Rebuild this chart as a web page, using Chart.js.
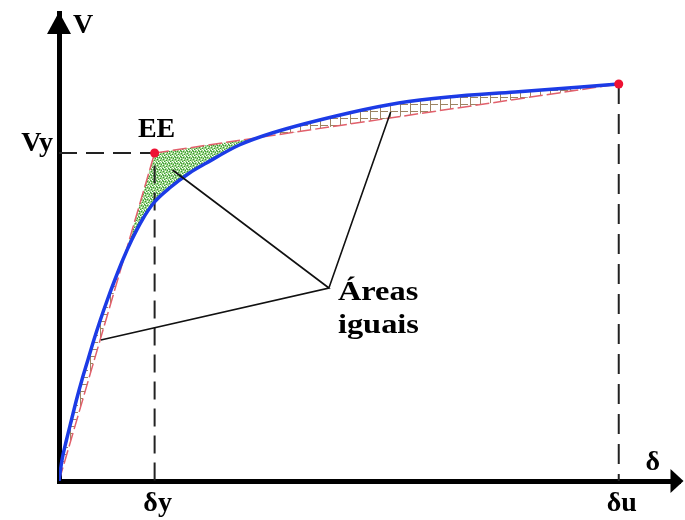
<!DOCTYPE html>
<html>
<head>
<meta charset="utf-8">
<script src="https://cdn.jsdelivr.net/npm/chart.js@4/dist/chart.umd.min.js"></script>
<style>
  body { margin: 0; background: #fff; }
</style>
</head>
<body>
<canvas id="grafico" width="685" height="520"></canvas>
<script>
// capacity curve (delta, V)
const curveDelta = [0, 0.3, 0.75, 1.25, 1.75, 2.3, 2.9, 3.5, 4.15, 4.85, 5.6, 6.4, 7.3, 8.35, 9.5, 11.1, 13.1, 14.8, 18.1, 21.4, 29.1, 34.1, 39.1, 45.8, 52.4, 56.2];
const curveV = [0, 2.1, 4.1, 6.1, 8.1, 10.1, 12.1, 14.1, 16.1, 18.1, 20.1, 22.1, 24.1, 26.1, 27.8, 29.3, 30.8, 31.8, 33.6, 34.8, 36.8, 37.8, 38.4, 38.9, 39.4, 39.7];

// equivalent bilinear: origin -> EE -> ultimate
const bilinDelta = [0, 9.6, 56.2];
const bilinV = [0, 32.8, 39.7];

// tick positions and labels
const deltaY = 9.6, deltaU = 56.2, vY = 32.8;
const xTickValues = [deltaY, deltaU];
const xTickLabels = ['δy', 'δu'];
const yTickValues = [vY];
const yTickLabels = ['Vy'];

// areas between the two curves
const greenDelta = [6.6, 9.6, 20.1, 18.1, 14.8, 13.1, 11.1, 9.5, 8.35, 7.3, 6.6];
const greenV = [22.55, 32.8, 34.35, 33.6, 31.8, 30.8, 29.3, 27.8, 26.1, 24.1, 22.55];
const lowDelta = [0, 6.6, 6.4, 5.6, 4.85, 4.15, 3.5, 2.9, 2.3, 1.75, 1.25, 0.75, 0.3, 0];
const lowV = [0, 22.55, 22.1, 20.1, 18.1, 16.1, 14.1, 12.1, 10.1, 8.1, 6.1, 4.1, 2.1, 0];
const highDelta = [20.1, 21.4, 29.1, 34.1, 39.1, 45.8, 52.4, 56.2, 20.1];
const highV = [34.35, 34.8, 36.8, 37.8, 38.4, 38.9, 39.4, 39.7, 34.35];

// leader lines to "Áreas iguais"
const leaderDelta = [4.2, 27.1, 11.4, 27.1, 33.3];
const leaderV = [14.1, 19.3, 31.1, 19.3, 36.9];

const pts = (xs, ys) => xs.map((v, i) => ({ x: v, y: ys[i] }));

function greenPattern() {
    const c = document.createElement('canvas');
    c.width = 6; c.height = 6;
    const g = c.getContext('2d');
    g.fillStyle = '#9dd58a';
    g.fillRect(0, 0, 6, 6);
    g.fillStyle = '#3a9636';
    [[0, 0], [3, 1], [1, 3], [4, 4], [5, 2], [2, 5], [1, 1]].forEach(p => g.fillRect(p[0], p[1], 1, 1));
    g.fillStyle = '#ffffff';
    [[2, 0], [5, 0], [0, 2], [3, 3], [1, 5], [4, 5]].forEach(p => g.fillRect(p[0], p[1], 1, 1));
    return g.createPattern(c, 'repeat');
}

function hatchPattern() {
    const c = document.createElement('canvas');
    c.width = 10; c.height = 7;
    const g = c.getContext('2d');
    g.fillStyle = '#9c8462';
    g.fillRect(0, 0, 1, 7);
    g.fillRect(0, 6, 8, 1);
    return g.createPattern(c, 'repeat');
}

const font = { family: '"Liberation Serif", "DejaVu Serif", serif', size: 28, weight: 'bold' };

const overlay = {
    id: 'overlay',
    afterDraw(chart) {
        const { ctx, chartArea: a, scales: { x, y } } = chart;
        ctx.save();
        ctx.fillStyle = '#000';
        // arrow heads
        ctx.beginPath();
        ctx.moveTo(a.left, a.top - 1);
        ctx.lineTo(a.left - 12, a.top + 21);
        ctx.lineTo(a.left + 12, a.top + 21);
        ctx.closePath();
        ctx.fill();
        ctx.beginPath();
        ctx.moveTo(a.right + 3, a.bottom);
        ctx.lineTo(a.right - 10, a.bottom - 12);
        ctx.lineTo(a.right - 10, a.bottom + 12);
        ctx.closePath();
        ctx.fill();

        ctx.font = 'bold 28px "Liberation Serif", serif';
        ctx.textBaseline = 'alphabetic';
        ctx.textAlign = 'left';
        ctx.fillText('V', a.left + 14, a.top + 20);
        ctx.fillText('δ', a.right - 35, a.bottom - 11);

        ctx.textAlign = 'center';
        ctx.fillText('EE', x.getPixelForValue(deltaY) + 2, y.getPixelForValue(vY) - 16);

        const hx = x.getPixelForValue(leaderDelta[1]);
        const hy = y.getPixelForValue(leaderV[1]);
        ctx.translate(hx + 9, hy);
        ctx.scale(1.2, 1);
        ctx.font = 'bold 27px "Liberation Serif", serif';
        ctx.textAlign = 'left';
        ctx.fillText('Áreas', 0, 12);
        ctx.fillText('iguais', 0, 45);
        ctx.restore();
    }
};

new Chart(document.getElementById('grafico'), {
    type: 'scatter',
    data: {
        datasets: [
            {   // end points
                data: [{ x: deltaY, y: vY }, { x: deltaU, y: bilinV[2] }],
                pointRadius: 4.5, pointBackgroundColor: '#ee1133', pointBorderWidth: 0,
                showLine: false, order: 0
            },
            {   // leaders
                data: pts(leaderDelta, leaderV),
                showLine: true, borderColor: '#111', borderWidth: 1.6, pointRadius: 0, order: 1
            },
            {   // blue capacity curve
                data: pts(curveDelta, curveV),
                showLine: true, borderColor: '#1c3be6', borderWidth: 3.5, pointRadius: 0,
                cubicInterpolationMode: 'monotone', order: 2
            },
            {   // red bilinear
                data: pts(bilinDelta, bilinV),
                showLine: true, borderColor: '#e2606c', borderWidth: 1.5, borderDash: [14, 4],
                pointRadius: 0, order: 3
            },
            {   // Vy / δy guide
                data: [{ x: 0, y: vY }, { x: deltaY, y: vY }, { x: deltaY, y: 0 }],
                showLine: true, borderColor: '#222', borderWidth: 2, borderDash: [18, 9],
                pointRadius: 0, order: 4
            },
            {   // δu guide
                data: [{ x: deltaU, y: bilinV[2] }, { x: deltaU, y: 0 }],
                showLine: true, borderColor: '#222', borderWidth: 2, borderDash: [20, 10],
                pointRadius: 0, order: 4
            },
            {
                data: pts(greenDelta, greenV),
                showLine: true, borderWidth: 0, pointRadius: 0,
                fill: 'shape', backgroundColor: greenPattern(), order: 5
            },
            {
                data: pts(lowDelta, lowV),
                showLine: true, borderWidth: 0, pointRadius: 0,
                fill: 'shape', backgroundColor: hatchPattern(), order: 5
            },
            {
                data: pts(highDelta, highV),
                showLine: true, borderWidth: 0, pointRadius: 0,
                fill: 'shape', backgroundColor: hatchPattern(), order: 5
            }
        ]
    },
    options: {
        responsive: false,
        animation: false,
        devicePixelRatio: 1,
        layout: { padding: { top: 13, right: 2, left: 0, bottom: 0 } },
        plugins: { legend: { display: false }, tooltip: { enabled: false } },
        scales: {
            x: {
                type: 'linear', min: 0, max: 62.4,
                grid: { display: false, drawTicks: false },
                border: { display: true, width: 5, color: '#000' },
                afterBuildTicks: axis => { axis.ticks = xTickValues.map(v => ({ value: v })); },
                afterFit: axis => { axis.height = 39; axis.paddingLeft = 0; axis.paddingRight = 0; },
                ticks: {
                    padding: 6, labelOffset: 3, color: '#000', font: font, maxRotation: 0,
                    callback: v => xTickLabels[xTickValues.indexOf(v)]
                }
            },
            y: {
                type: 'linear', min: 0, max: 46.8,
                grid: { display: false, drawTicks: false },
                border: { display: true, width: 5, color: '#000' },
                afterBuildTicks: axis => { axis.ticks = yTickValues.map(v => ({ value: v })); },
                afterFit: axis => { axis.width = 59; axis.paddingTop = 0; axis.paddingBottom = 0; },
                ticks: {
                    padding: 6, labelOffset: -9, color: '#000', font: font,
                    callback: v => yTickLabels[yTickValues.indexOf(v)]
                }
            }
        }
    },
    plugins: [overlay]
});
</script>
</body>
</html>
